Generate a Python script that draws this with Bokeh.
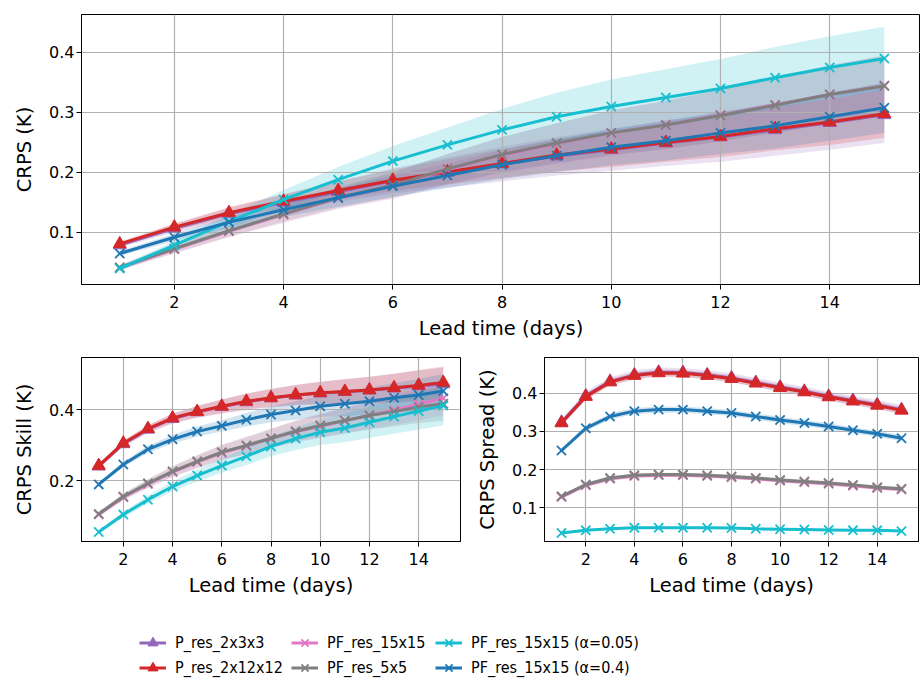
from bokeh.plotting import figure
from bokeh.layouts import column, row
from bokeh.models import Range1d, FixedTicker, Legend, LegendItem, ColumnDataSource
from bokeh.embed import file_html
from bokeh.resources import INLINE

# ---------------- data ----------------
days = [1, 2, 3, 4, 5, 6, 7, 8, 9, 10, 11, 12, 13, 14, 15]
x_ticks = [2, 4, 6, 8, 10, 12, 14]

names = ["P_res_2x3x3", "P_res_2x12x12", "PF_res_15x15", "PF_res_5x5",
         "PF_res_15x15 (\u03b1=0.05)", "PF_res_15x15 (\u03b1=0.4)"]
colors = ["#9467bd", "#d62728", "#e377c2", "#7f7f7f", "#17becf", "#1f77b4"]
markers = ["triangle", "triangle", "x", "x", "x", "x"]

# CRPS (top)
crps_purple = [0.079, 0.107, 0.131, 0.150, 0.168, 0.186, 0.200, 0.214, 0.227, 0.238, 0.249, 0.259, 0.271, 0.283, 0.296]
crps_red    = [0.081, 0.109, 0.133, 0.152, 0.170, 0.187, 0.201, 0.215, 0.229, 0.239, 0.250, 0.260, 0.273, 0.284, 0.298]
crps_pink   = [0.041, 0.072, 0.102, 0.130, 0.157, 0.178, 0.205, 0.229, 0.248, 0.266, 0.280, 0.296, 0.313, 0.330, 0.345]
crps_gray   = [0.042, 0.073, 0.103, 0.131, 0.158, 0.179, 0.206, 0.230, 0.249, 0.266, 0.279, 0.295, 0.312, 0.330, 0.344]
crps_cyan   = [0.040, 0.079, 0.118, 0.155, 0.188, 0.219, 0.246, 0.271, 0.293, 0.310, 0.325, 0.340, 0.358, 0.375, 0.390]
crps_blue   = [0.065, 0.092, 0.117, 0.138, 0.158, 0.177, 0.195, 0.213, 0.228, 0.242, 0.253, 0.266, 0.278, 0.293, 0.308]

crps_hw_purple = [0.004, 0.007, 0.010, 0.013, 0.017, 0.021, 0.025, 0.029, 0.032, 0.035, 0.038, 0.041, 0.043, 0.045, 0.047]
crps_hw_red    = [0.004, 0.006, 0.009, 0.012, 0.015, 0.018, 0.021, 0.024, 0.027, 0.030, 0.032, 0.034, 0.036, 0.038, 0.040]
crps_hw_pink   = [0.004, 0.007, 0.010, 0.014, 0.018, 0.022, 0.026, 0.030, 0.034, 0.038, 0.041, 0.044, 0.047, 0.049, 0.051]
crps_hw_gray   = [0.004, 0.007, 0.010, 0.013, 0.017, 0.021, 0.025, 0.029, 0.033, 0.037, 0.040, 0.043, 0.046, 0.048, 0.050]
crps_hw_cyan   = [0.004, 0.007, 0.011, 0.016, 0.021, 0.025, 0.029, 0.035, 0.040, 0.045, 0.047, 0.049, 0.051, 0.052, 0.053]
crps_hw_blue   = [0.004, 0.006, 0.009, 0.012, 0.015, 0.018, 0.021, 0.024, 0.027, 0.030, 0.033, 0.035, 0.038, 0.040, 0.042]

# CRPS Skill (bottom left)
skill_purple = [0.240, 0.303, 0.344, 0.374, 0.393, 0.408, 0.421, 0.432, 0.440, 0.446, 0.450, 0.454, 0.460, 0.466, 0.472]
skill_red    = [0.242, 0.305, 0.346, 0.376, 0.394, 0.409, 0.423, 0.433, 0.441, 0.447, 0.451, 0.455, 0.461, 0.468, 0.476]
skill_pink   = [0.104, 0.153, 0.190, 0.224, 0.252, 0.278, 0.297, 0.318, 0.337, 0.353, 0.368, 0.384, 0.398, 0.415, 0.432]
skill_gray   = [0.106, 0.155, 0.192, 0.226, 0.254, 0.280, 0.299, 0.319, 0.339, 0.355, 0.369, 0.383, 0.394, 0.407, 0.416]
skill_cyan   = [0.055, 0.104, 0.146, 0.183, 0.214, 0.242, 0.268, 0.296, 0.318, 0.336, 0.348, 0.364, 0.380, 0.396, 0.411]
skill_blue   = [0.189, 0.245, 0.288, 0.316, 0.338, 0.354, 0.371, 0.386, 0.397, 0.409, 0.416, 0.423, 0.433, 0.441, 0.452]

skill_hw_purple = [0.005, 0.008, 0.011, 0.014, 0.017, 0.020, 0.023, 0.026, 0.029, 0.032, 0.035, 0.038, 0.041, 0.044, 0.046]
skill_hw_red    = [0.005, 0.008, 0.010, 0.013, 0.016, 0.019, 0.022, 0.025, 0.028, 0.031, 0.034, 0.037, 0.040, 0.043, 0.045]
skill_hw_pink   = [0.006, 0.009, 0.012, 0.015, 0.018, 0.021, 0.024, 0.027, 0.030, 0.033, 0.036, 0.039, 0.042, 0.045, 0.048]
skill_hw_gray   = [0.006, 0.009, 0.012, 0.015, 0.018, 0.021, 0.024, 0.027, 0.030, 0.033, 0.036, 0.039, 0.042, 0.045, 0.048]
skill_hw_cyan   = [0.005, 0.008, 0.011, 0.014, 0.017, 0.020, 0.024, 0.028, 0.032, 0.036, 0.040, 0.044, 0.048, 0.052, 0.055]
skill_hw_blue   = [0.005, 0.008, 0.010, 0.012, 0.014, 0.016, 0.019, 0.022, 0.026, 0.030, 0.034, 0.038, 0.042, 0.045, 0.048]

# CRPS Spread (bottom right)
spread_purple = [0.324, 0.393, 0.431, 0.448, 0.455, 0.454, 0.448, 0.440, 0.428, 0.416, 0.405, 0.392, 0.381, 0.370, 0.357]
spread_red    = [0.322, 0.391, 0.429, 0.446, 0.453, 0.452, 0.446, 0.438, 0.426, 0.414, 0.403, 0.390, 0.379, 0.368, 0.355]
spread_pink   = [0.128, 0.159, 0.176, 0.183, 0.185, 0.185, 0.183, 0.180, 0.176, 0.171, 0.167, 0.163, 0.158, 0.152, 0.148]
spread_gray   = [0.130, 0.161, 0.178, 0.185, 0.187, 0.187, 0.185, 0.182, 0.178, 0.173, 0.169, 0.165, 0.160, 0.154, 0.150]
spread_cyan   = [0.034, 0.041, 0.045, 0.048, 0.048, 0.048, 0.048, 0.047, 0.045, 0.044, 0.043, 0.042, 0.041, 0.041, 0.039]
spread_blue   = [0.250, 0.308, 0.339, 0.353, 0.357, 0.357, 0.353, 0.348, 0.339, 0.330, 0.322, 0.313, 0.303, 0.294, 0.282]

spread_hw_purple = [0.010, 0.011, 0.011, 0.012, 0.012, 0.012, 0.012, 0.012, 0.012, 0.012, 0.012, 0.012, 0.012, 0.012, 0.012]
spread_hw_red    = [0.007, 0.008, 0.008, 0.009, 0.009, 0.009, 0.009, 0.009, 0.009, 0.009, 0.009, 0.009, 0.009, 0.009, 0.009]
spread_hw_pink   = [0.004, 0.005, 0.005, 0.005, 0.005, 0.005, 0.005, 0.005, 0.005, 0.005, 0.005, 0.005, 0.005, 0.005, 0.005]
spread_hw_gray   = [0.004, 0.005, 0.005, 0.005, 0.005, 0.005, 0.005, 0.005, 0.005, 0.005, 0.005, 0.005, 0.005, 0.005, 0.005]
spread_hw_cyan   = [0.003, 0.003, 0.003, 0.003, 0.003, 0.003, 0.003, 0.003, 0.003, 0.003, 0.003, 0.003, 0.003, 0.003, 0.003]
spread_hw_blue   = [0.006, 0.007, 0.008, 0.008, 0.008, 0.008, 0.008, 0.008, 0.008, 0.008, 0.008, 0.008, 0.008, 0.008, 0.008]

crps_series = [crps_purple, crps_red, crps_pink, crps_gray, crps_cyan, crps_blue]
crps_hws = [crps_hw_purple, crps_hw_red, crps_hw_pink, crps_hw_gray, crps_hw_cyan, crps_hw_blue]
skill_series = [skill_purple, skill_red, skill_pink, skill_gray, skill_cyan, skill_blue]
skill_hws = [skill_hw_purple, skill_hw_red, skill_hw_pink, skill_hw_gray, skill_hw_cyan, skill_hw_blue]
spread_series = [spread_purple, spread_red, spread_pink, spread_gray, spread_cyan, spread_blue]
spread_hws = [spread_hw_purple, spread_hw_red, spread_hw_pink, spread_hw_gray, spread_hw_cyan, spread_hw_blue]

FONT = "DejaVu Sans"
LW = 3
TRI_SIZE = 13
X_SIZE = 13


def make_fig(width, height, x_end, y_range, y_ticks, ylabel, borders):
    left, right, top, bottom = borders
    p = figure(width=width, height=height, output_backend="svg", toolbar_location=None,
               x_range=Range1d(0.3, x_end), y_range=Range1d(*y_range),
               min_border_left=left, min_border_right=right,
               min_border_top=top, min_border_bottom=bottom)
    p.background_fill_color = "white"
    p.border_fill_color = "white"
    p.outline_line_color = "black"
    p.outline_line_width = 1
    p.xaxis.ticker = FixedTicker(ticks=x_ticks)
    p.yaxis.ticker = FixedTicker(ticks=y_ticks)
    p.xaxis.axis_label = "Lead time (days)"
    p.yaxis.axis_label = ylabel
    for ax in (p.xaxis[0], p.yaxis[0]):
        ax.axis_line_color = "black"
        ax.axis_line_width = 1
        ax.major_tick_line_color = "black"
        ax.major_tick_out = 5
        ax.major_tick_in = 0
        ax.minor_tick_line_color = None
        ax.major_label_text_font = FONT
        ax.major_label_text_font_size = "16px"
        ax.major_label_text_color = "black"
        ax.axis_label_text_font = FONT
        ax.axis_label_text_font_size = "19.5px"
        ax.axis_label_text_font_style = "normal"
        ax.axis_label_text_color = "black"
    p.xaxis[0].major_label_standoff = 6
    p.xaxis[0].axis_label_standoff = 6
    p.yaxis[0].major_label_standoff = 2
    p.yaxis[0].axis_label_standoff = 10
    for g in (p.xgrid[0], p.ygrid[0]):
        g.grid_line_color = "#b0b0b0"
        g.grid_line_width = 1.2
    return p


def add_marks(p, src, col, mk):
    lr = p.line(x="x", y="y", source=src, line_color=col, line_width=LW)
    if mk == "triangle":
        sr = p.scatter(x="x", y="y", source=src, marker="triangle", size=TRI_SIZE,
                       fill_color=col, line_color=col, line_width=1)
    else:
        sr = p.scatter(x="x", y="y", source=src, marker="x", size=X_SIZE,
                       line_color=col, line_width=1.8)
    return lr, sr


def draw(p, series, hws):
    for vals, hw, col, mk in zip(series, hws, colors, markers):
        lower = [v - h for v, h in zip(vals, hw)]
        upper = [v + h for v, h in zip(vals, hw)]
        src = ColumnDataSource(dict(x=days, y=vals, lo=lower, hi=upper))
        band = p.varea(x="x", y1="lo", y2="hi", source=src, fill_color=col, fill_alpha=0.2)
        band.level = "image"
        add_marks(p, src, col, mk)


top = make_fig(920, 345, 15.662, (0.01333, 0.4633), [0.1, 0.2, 0.3, 0.4], "CRPS (K)", (81, 0, 14, 61))
draw(top, crps_series, crps_hws)

bl = make_fig(470, 255, 15.7, (0.0282, 0.5465), [0.2, 0.4], "CRPS Skill (K)", (81, 10, 12, 59))
draw(bl, skill_series, skill_hws)

br = make_fig(450, 255, 15.7, (0.0118, 0.4934), [0.1, 0.2, 0.3, 0.4], "CRPS Spread (K)", (74, 2, 12, 59))
draw(br, spread_series, spread_hws)

# legend figure: legend glyphs are drawn by renderers of the series data placed outside the view
lf = figure(width=920, height=80, output_backend="svg", toolbar_location=None,
            x_axis_type=None, y_axis_type=None,
            x_range=Range1d(-20, -19), y_range=Range1d(-20, -19),
            min_border_left=0, min_border_right=0, min_border_top=0, min_border_bottom=0)
lf.grid.visible = False
lf.outline_line_color = None
lf.background_fill_color = "white"
lf.border_fill_color = "white"

items = []
for name, vals, col, mk in zip(names, crps_series, colors, markers):
    src = ColumnDataSource(dict(x=days, y=vals))
    lr, sr = add_marks(lf, src, col, mk)
    items.append(LegendItem(label=name, renderers=[lr, sr]))

col_x = [58, 210, 354]
for i in range(3):
    leg = Legend(items=items[2 * i:2 * i + 2], location=(col_x[i], 0),
                 orientation="vertical", glyph_width=27, glyph_height=25,
                 label_height=25, label_standoff=9, spacing=0, padding=0, margin=0,
                 label_text_font="DejaVu Sans Condensed", label_text_font_size="16px",
                 label_text_color="black", background_fill_alpha=0,
                 border_line_color=None)
    lf.add_layout(leg, "center")

layout = column(top, row(bl, br), lf)
open("out.html", "w").write(file_html(layout, INLINE))
